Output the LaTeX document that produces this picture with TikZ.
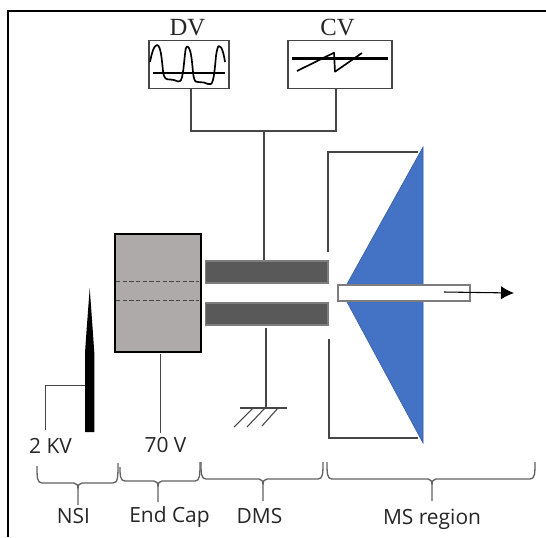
\documentclass[tikz,border=0pt]{standalone}
\usepackage{fontspec}
\usetikzlibrary{arrows.meta}
\setmainfont{Open Sans}
\newfontfamily\serifcap{Liberation Serif}
\definecolor{capgray}{RGB}{174,170,170}
\definecolor{rodgray}{RGB}{89,89,89}
\definecolor{rodedge}{RGB}{125,125,125}
\definecolor{conblue}{RGB}{68,114,196}
\definecolor{wire}{RGB}{70,70,70}
\tikzset{x=0.75pt,y=-0.75pt,
 wireline/.style={draw=wire,line width=0.8pt},
 scopebox/.style={draw=wire,line width=0.9pt,fill=white,inner sep=0pt,rectangle},
 rod/.style={draw=rodedge,fill=rodgray,line width=1pt,inner sep=0pt,rectangle,minimum width=92pt,minimum height=16.500pt},
 lab/.style={inner sep=0pt,font=\fontsize{15.7pt}{17pt}\selectfont,text=black!85},
 caplab/.style={inner sep=0pt,font=\serifcap\fontsize{18.5pt}{20pt}\selectfont,text=black!85},
 bracem/.style={draw=wire!85,line width=1pt}}
% left x, left top y, middle x, right x, right top y, line y, stem end y
\newcommand{\curlybrace}[7]{%
 \draw[bracem] (#1,#2) .. controls (#1,#6-6) and (#1,#6) .. (#1+5,#6)
  -- (#3-4,#6) .. controls (#3-1.5,#6) and (#3,#6+2) .. (#3,#6+6) -- (#3,#7)
  (#3,#6+6) .. controls (#3,#6+2) and (#3+1.5,#6) .. (#3+4,#6)
  -- (#4-5,#6) .. controls (#4,#6) and (#4,#6-6) .. (#4,#5);}
\begin{document}
\begin{tikzpicture}
\useasboundingbox (0,0) rectangle (546,537);
\fill[white] (0,0) rectangle (546,537);
% frame
\draw[black,line width=1.5pt] (7.5,537) -- (7.5,10.5) -- (546,10.5);
% scopes
\node[scopebox,minimum width=60pt,minimum height=36pt] (dv) at (189,64.700) {};
\node[scopebox,minimum width=78pt,minimum height=36pt] (cv) at (340,64.700) {};
\node[caplab] (dvt) at (187.500,28) {DV};
\node[caplab] (cvt) at (337.500,27.500) {CV};
% traces
\draw[black,line width=1.25pt,line join=round] (150,62) .. controls (151.500,54) and (154,45) .. (157,45) .. controls (161,45) and (162,62) .. (163,71) .. controls (164,79) and (166,79.500) .. (170,79.500) -- (174,80) -- (178,81.500) -- (180,81) .. controls (183,80) and (184,62) .. (185,54) .. controls (185.500,49) and (186,46.500) .. (187,46.500) .. controls (191,46.500) and (192,62) .. (193,72) .. controls (194,81) and (195,82) .. (198,82) -- (204,82.500) -- (208,84) -- (211,84) .. controls (214,82) and (215,66) .. (216,56) .. controls (217,49) and (218,46) .. (219,46) .. controls (222,46) and (224,55) .. (225,62);
\draw[black,line width=1.5pt] (153,72.500) -- (225,72.500);
\draw[black,line width=1.7pt] (292,58.500) -- (388,58.500);
\draw[black,line width=1.25pt,line join=round] (297,71) -- (334,52.700) -- (335,71.700) -- (362,53);
% wires from scopes
\coordinate (j) at (264,131);
\coordinate (jl) at (191,131);
\coordinate (jr) at (336,131);
\draw[wireline] (dv.south -| jl) -- (jl) -- (jr) -- (cv.south -| jr);
% cone
\filldraw[fill=conblue,draw=conblue!80!black,line width=0.4pt] (423,147) -- (423,443) -- (347,302) -- (347,284) -- cycle;
% skimmer plate
\draw[wireline] (328,252) -- (328,152) -- (418,152);
\draw[wireline] (329,339) -- (329,438) -- (418,438);
% end cap
\node[draw=black,fill=capgray,line width=1.5pt,inner sep=0pt,rectangle,minimum width=64pt,minimum height=88.500pt] (cap) at (158,293) {};
\draw[wire,line width=0.8pt,dash pattern=on 3.200pt off 1.800pt] (116,281.700) -- (199,281.700);
\draw[wire,line width=0.8pt,dash pattern=on 3.200pt off 1.800pt] (116,300.300) -- (199,300.300);
% rods
\node[rod] (r1) at (266.500,272) {};
\node[rod] (r2) at (266.500,314) {};
\draw[wireline] (j) -- (r1.north -| j);
\coordinate (g) at (266,408);
\draw[wireline] (266,328) -- (g);
\draw[wireline] (240,408) -- (287,408);
\draw[wireline] (253,408) -- (234,427) (265,408) -- (247,427) (278,408) -- (262,426);
% needle
\fill[black] (85,432) -- (85,353) .. controls (86.500,330) and (88.500,305) .. (89.700,288) .. controls (90.900,305) and (92.800,330) .. (94.300,353) -- (94.300,432) -- cycle;
\draw[wireline] (85,385.700) -- (45.700,385.700) -- (45.700,430);
\draw[wireline] (160.700,354) -- (160.700,433);
% tube
\node[draw=rodedge,fill=white,line width=1.5pt,inner sep=0pt,rectangle,minimum width=99.500pt,minimum height=12.500pt] (tube) at (404,293) {};
\coordinate (a0) at (444,292);
\coordinate (a1) at (514,293);
\draw[black,line width=0.8pt,-{Latex[length=9.750pt,width=10pt]}] (a0) -- (a1);
% texts
\node[lab] (t1) at (50.500,446) {2 KV};
\node[lab] (t2) at (165.500,445) {70 V};
\node[lab] (t3) at (73.500,516) {NSI};
\node[lab,anchor=base] (t4) at (169.500,522) {End Cap};
\node[lab] (t5) at (259.500,516) {DMS};
\node[lab,anchor=base] (t6) at (432,524) {MS region};
% braces
\curlybrace{37}{466}{78}{118}{463}{483}{505}
\curlybrace{120}{467}{158}{200}{462}{481}{502}
\curlybrace{201}{462}{263}{323}{462}{479}{501}
\curlybrace{327}{462}{432}{535}{462}{479}{501}
\end{tikzpicture}
\end{document}
